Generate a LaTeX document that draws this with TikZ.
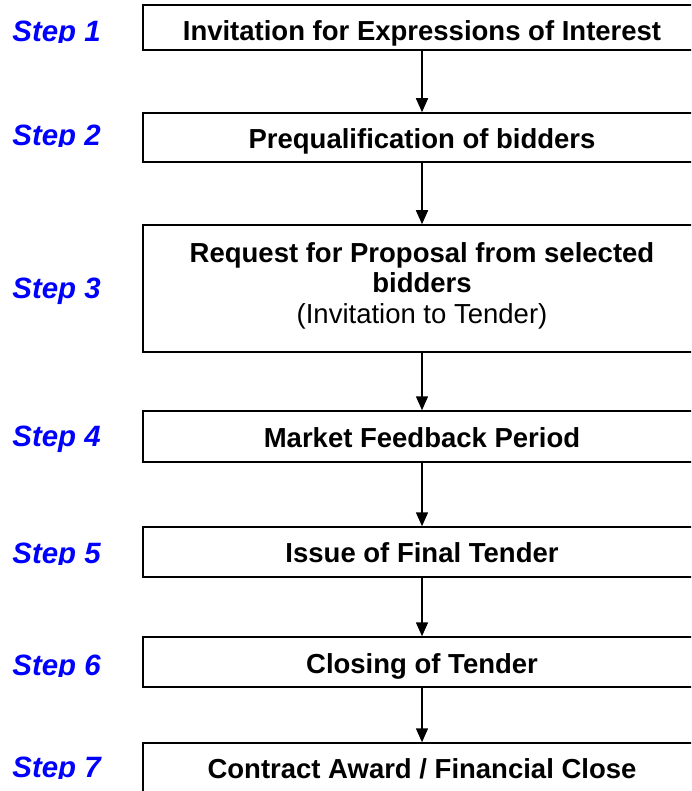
\documentclass[tikz,border=0pt]{standalone}
\usepackage{fontspec}
\setmainfont{Liberation Sans}
\usetikzlibrary{arrows.meta}
\definecolor{stepblue}{RGB}{0,0,255}

\begin{document}
\begin{tikzpicture}[x = .5pt, y = -.5pt,
  box/.style = {draw, line width = .75pt, minimum width = 279pt, inner sep = 0pt,
    font = \fontsize{13.75pt}{15.25pt}\selectfont\bfseries, align = center,
    text height = 10.5pt, text depth = 0pt},
  steplabel/.style = {anchor = base west, inner sep = 0pt, text = stepblue,
    font = \fontsize{14.7pt}{16pt}\selectfont\bfseries\itshape},
  flow/.style = {-{Triangle[length = 7pt, width = 6pt]}, line width = .75pt}]
\useasboundingbox (0, 0) rectangle (691, 791);
\clip (0, 0) rectangle (691, 791);

\node[box, minimum height = 22.5pt, text height = 13.5pt] (b1) at (422, 27.5)
{Invitation for Expressions of Interest};
\node[box, minimum height = 24.5pt, text height = 11.5pt] (b2) at (422, 137.5)
{Prequalification of bidders};
\node[box, minimum height = 63.5pt, text height = 37.5pt, text depth = 3pt] (b3) at (422, 288.5)
{Request for Proposal from selected\\ bidders\\ \mdseries(Invitation to Tender)};
\node[box, minimum height = 25.5pt] (b4) at (422, 436.5) {Market Feedback Period};
\node[box, minimum height = 25pt, text height = 10pt] (b5) at (422, 552) {Issue of Final Tender};
\node[box, minimum height = 25pt, text height = 11pt] (b6) at (422, 662) {Closing of Tender};
\node[box, minimum height = 26pt, text height = 9pt] (b7) at (422, 769)
{Contract Award / Financial Close};

% step numbers, some of them cut at the baseline
\foreach \n/\y/\c in {1/42/1, 2/146/1, 3/298/12, 4/446/12, 5/563/1, 6/675/1, 7/777/1}
{
  \begin{scope}
    \clip (0, \y - 40) rectangle (140, \y + \c);
    \node[steplabel] (s\n) at (12, \y) {Step \n};
  \end{scope}
}

\foreach \a/\b in {b1/b2, b2/b3, b3/b4, b4/b5, b5/b6, b6/b7}
    \draw[flow] (\a.south) -- (\b.north);

\end{tikzpicture}
\end{document}
